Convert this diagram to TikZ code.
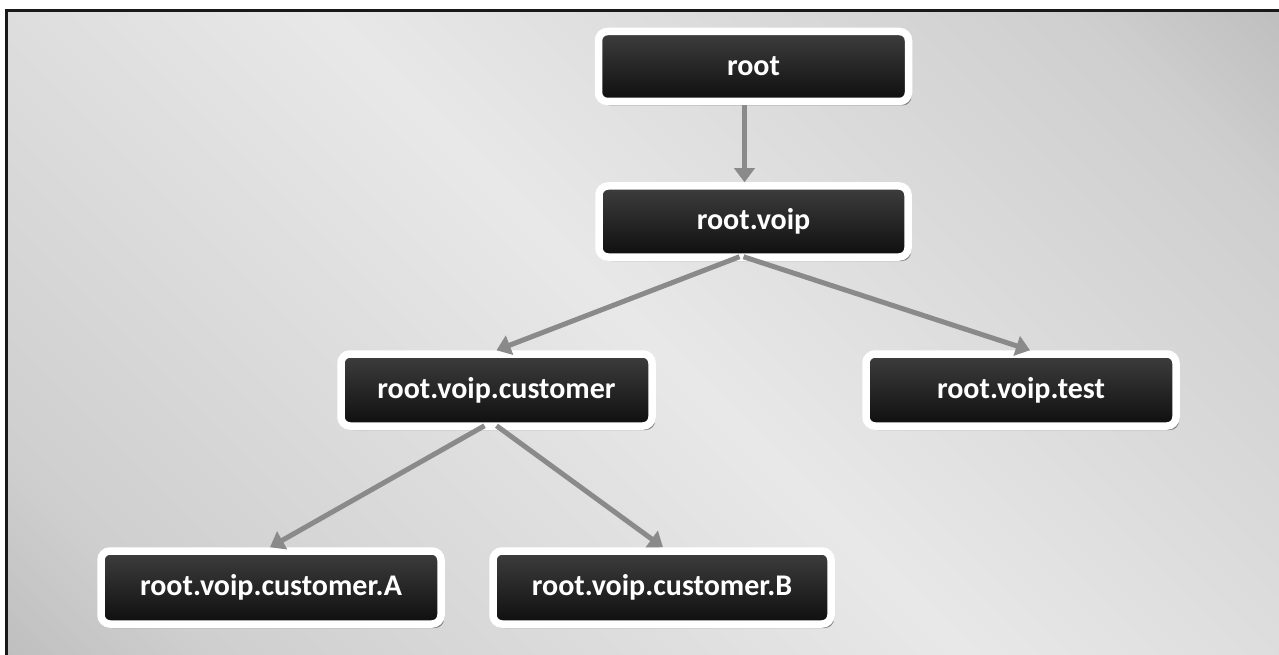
\documentclass[tikz,border=0pt]{standalone}
\usepackage{fontspec}
\setmainfont{Carlito}
\usetikzlibrary{arrows.meta,shadows}
\definecolor{bglight}{gray}{0.91}
\definecolor{bgmid}{gray}{0.81}
\definecolor{bgdark}{gray}{0.63}
\definecolor{boxtop}{HTML}{3E3E3E}
\definecolor{boxbot}{HTML}{0E0E0E}
\definecolor{arrowgray}{HTML}{8A8A8A}
\pgfdeclarehorizontalshading{bgband}{100bp}{color(0bp)=(bgdark); color(22bp)=(bgmid); color(50bp)=(bglight); color(78bp)=(bgmid); color(100bp)=(bgdark)}
\tikzset{
  tbox/.style={draw=white, line width=7.5pt, rounded corners=9pt,
    top color=boxtop, bottom color=boxbot, text=white,
    font=\fontsize{30}{34}\selectfont\bfseries,
    inner sep=0pt, anchor=center,
    drop shadow={shadow xshift=3pt, shadow yshift=-4pt, fill=black, opacity=0.4}},
  conn/.style={draw=arrowgray, line width=5pt, -{Triangle[width=20pt,length=14pt]}}
}
\begin{document}
\begin{tikzpicture}[x=1pt,y=-1pt]
\useasboundingbox (0,0) rectangle (1279,655);
% background
\shade[shading=bgband, shading angle=45] (6.5,10.5) rectangle (1279,655);
\draw[line width=3pt, color=black!90, line cap=rect] (6.5,655) -- (6.5,10.5) -- (1279,10.5);
% nodes
\node[tbox, minimum width=310pt, minimum height=70pt] (root) at (753.5,66.5) {root};
\node[tbox, minimum width=309pt, minimum height=71pt] (voip) at (753.5,221.5) {root.voip};
\node[tbox, minimum width=311pt, minimum height=72pt] (cust) at (496.5,390) {root.voip.customer};
\node[tbox, minimum width=310pt, minimum height=72pt] (test) at (1021,390) {root.voip.test};
\node[tbox, minimum width=340pt, minimum height=73pt] (ca) at (271,587.5) {root.voip.customer.A};
\node[tbox, minimum width=338pt, minimum height=73pt] (cb) at (662,587.5) {root.voip.customer.B};
% connectors
\path[conn] ([xshift=-9pt]root.south) -- ([xshift=-9pt]voip.north);
\path[conn] ([xshift=-14pt,yshift=4pt]voip.south) -- (cust.north);
\path[conn] ([xshift=-10pt,yshift=4pt]voip.south) -- ([xshift=9pt]test.north);
\path[conn] ([xshift=-12pt,yshift=4pt]cust.south) -- ([xshift=-1pt]ca.north);
\path[conn] ([xshift=0pt,yshift=4pt]cust.south) -- ([xshift=1pt]cb.north);
\end{tikzpicture}
\end{document}
